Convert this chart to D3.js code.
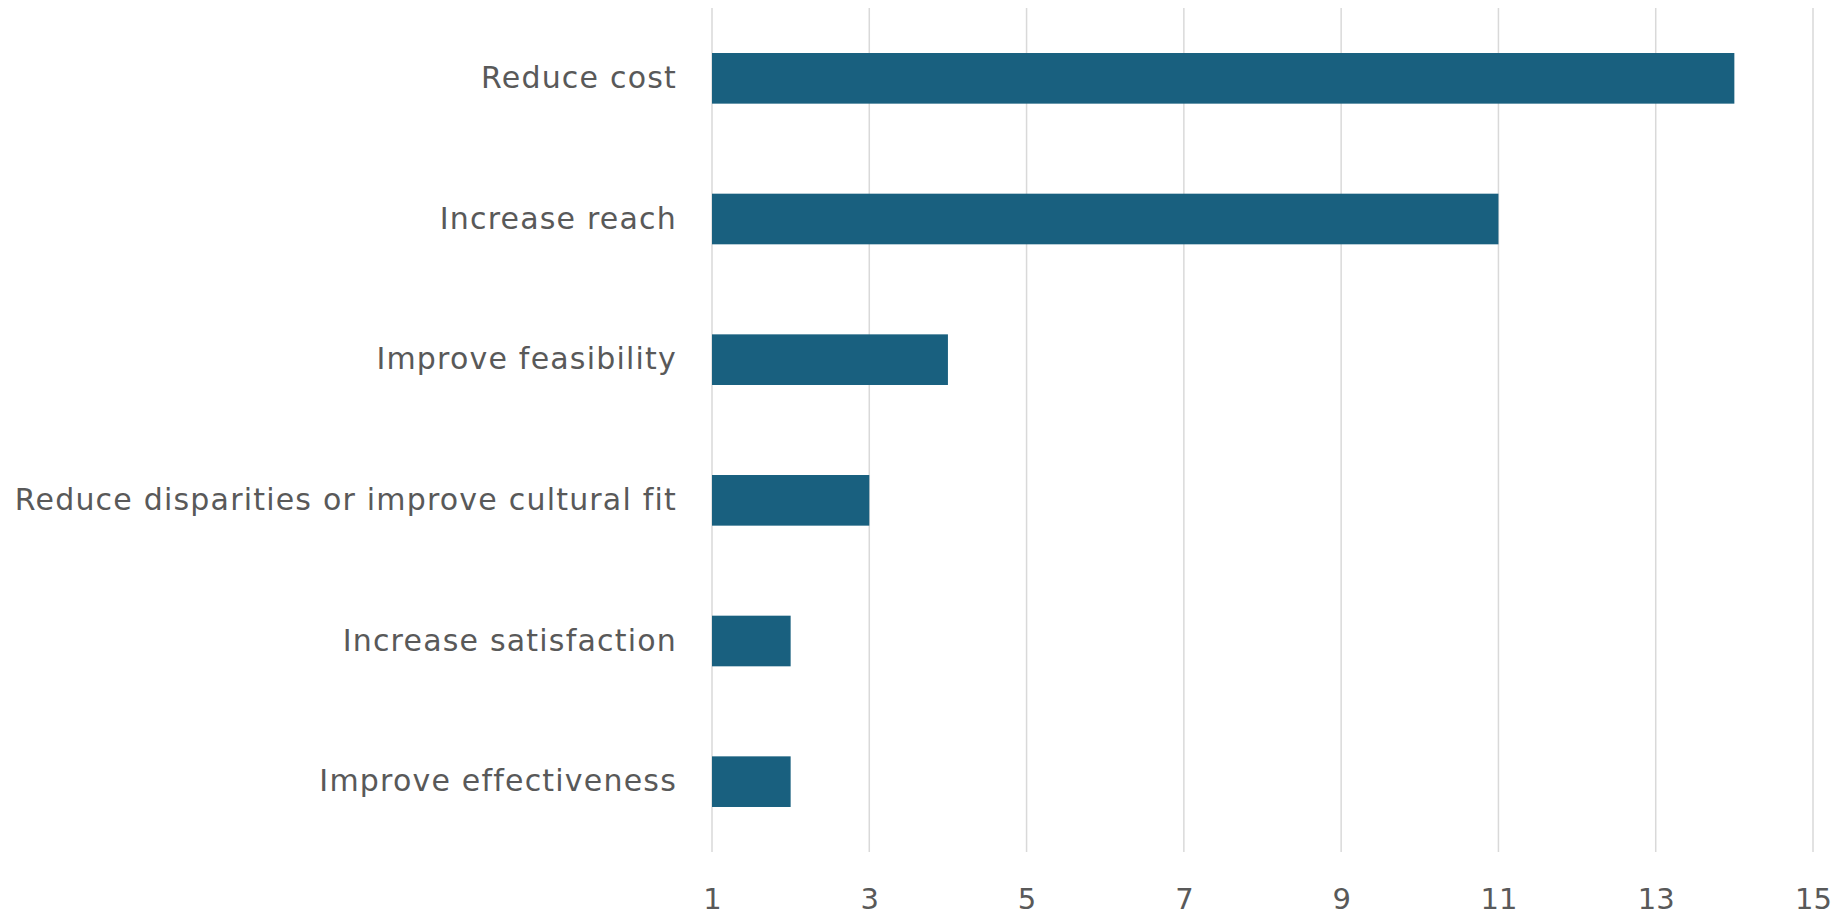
<!DOCTYPE html>
<html>
<head>
<meta charset="utf-8">
<script src="https://cdn.jsdelivr.net/npm/d3@7"></script>
<style>
  html, body { margin: 0; padding: 0; background: #ffffff; }
  svg { display: block; }
  text { font-family: "DejaVu Sans", "Open Sans", sans-serif; fill: #595959; }
</style>
</head>
<body>
<svg id="chart" width="1842" height="918"></svg>
<script>
// Goals reported, ordered top to bottom
const categories = [
  "Reduce cost",
  "Increase reach",
  "Improve feasibility",
  "Reduce disparities or improve cultural fit",
  "Increase satisfaction",
  "Improve effectiveness"
];
const counts = [14, 11, 4, 3, 2, 2];
const tickValues = [1, 3, 5, 7, 9, 11, 13, 15];

const svg = d3.select("#chart");
const margin = { top: 8, right: 29, bottom: 66, left: 712 };
const width = 1842 - margin.left - margin.right;
const height = 918 - margin.top - margin.bottom;

const g = svg.append("g").attr("transform", `translate(${margin.left},${margin.top})`);

const x = d3.scaleLinear().domain([1, 15]).range([0, width]);
const y = d3.scaleBand().domain(categories).range([0, height]).paddingInner(0.64).paddingOuter(0.32);

// vertical gridlines
g.selectAll("line.grid")
  .data(tickValues)
  .join("line")
  .attr("class", "grid")
  .attr("x1", d => x(d)).attr("x2", d => x(d))
  .attr("y1", 0).attr("y2", height)
  .attr("stroke", "#d9d9d9")
  .attr("stroke-width", 1.5);

// bars
g.selectAll("rect.bar")
  .data(categories.map((c, i) => ({ c, v: counts[i] })))
  .join("rect")
  .attr("class", "bar")
  .attr("x", x(1))
  .attr("y", d => y(d.c))
  .attr("width", d => x(d.v) - x(1))
  .attr("height", y.bandwidth())
  .attr("fill", "#19607f");

// x axis labels
const xAxis = d3.axisBottom(x).tickValues(tickValues).tickSize(0).tickPadding(36).tickFormat(d3.format("d"));
const xg = g.append("g").attr("transform", `translate(0,${height})`).call(xAxis);
xg.select(".domain").remove();
xg.selectAll("text").style("font-size", "29px").attr("fill", "#595959");

// category labels
const yAxis = d3.axisLeft(y).tickSize(0).tickPadding(35);
const yg = g.append("g").call(yAxis);
yg.select(".domain").remove();
yg.selectAll("text").style("font-size", "30px").style("letter-spacing", "1.2px").attr("fill", "#595959");
</script>
</body>
</html>
